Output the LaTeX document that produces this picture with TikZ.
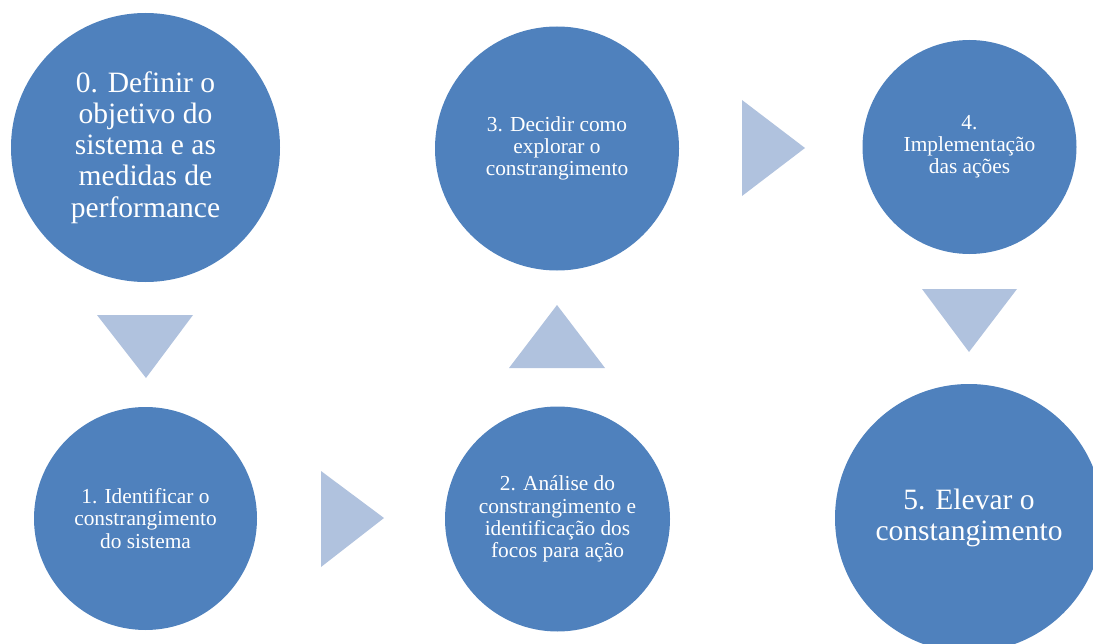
\documentclass[tikz,border=0pt]{standalone}
\usepackage{fontspec}
\setmainfont{Liberation Serif}
\definecolor{stageblue}{RGB}{79,129,189}
\definecolor{arrowblue}{RGB}{176,194,222}
\tikzset{
  stage/.style={circle, fill=stageblue, text=white, inner sep=0pt, align=center},
  bigtext/.style={font=\fontsize{21}{22.2}\selectfont},
  smalltext/.style={font=\fontsize{15.2}{15.8}\selectfont},
  tri/.style={fill=arrowblue}
}

\begin{document}
\begin{tikzpicture}[x=0.025cm, y=-0.025cm]

\def\px{0.025cm}
\clip (0,0) rectangle (1093,644);

\node[stage, bigtext, minimum size=269*\px] (s0) at (145.5,147.5) {0. Definir o\\objetivo do\\sistema e as\\medidas de\\performance};
\node[stage, smalltext, minimum size=223*\px] (s1) at (145.5,518.5) {1. Identificar o\\constrangimento\\do sistema};
\node[stage, smalltext, minimum size=225*\px] (s2) at (557.5,519) {2. An\'alise do\\constrangimento e\\identifica\c{c}\~ao dos\\focos para a\c{c}\~ao};
\node[stage, smalltext, minimum size=244*\px] (s3) at (557,148.5) {3. Decidir como\\explorar o\\constrangimento};
\node[stage, smalltext, minimum size=214*\px] (s4) at (969.5,147) {4.\\Implementa\c{c}\~ao\\das a\c{c}\~oes};
\node[stage, bigtext, minimum size=268*\px] (s5) at (969,518) {5. Elevar o\\constangimento};

\fill[tri] (97,315) -- (193,315) -- (146,378) -- cycle;
\fill[tri] (321,471) -- (321,567) -- (384,518) -- cycle;
\fill[tri] (509,368) -- (605,368) -- (557,305) -- cycle;
\fill[tri] (742,100) -- (742,196) -- (805,148) -- cycle;
\fill[tri] (922,289) -- (1017,289) -- (969,352) -- cycle;

\end{tikzpicture}
\end{document}
